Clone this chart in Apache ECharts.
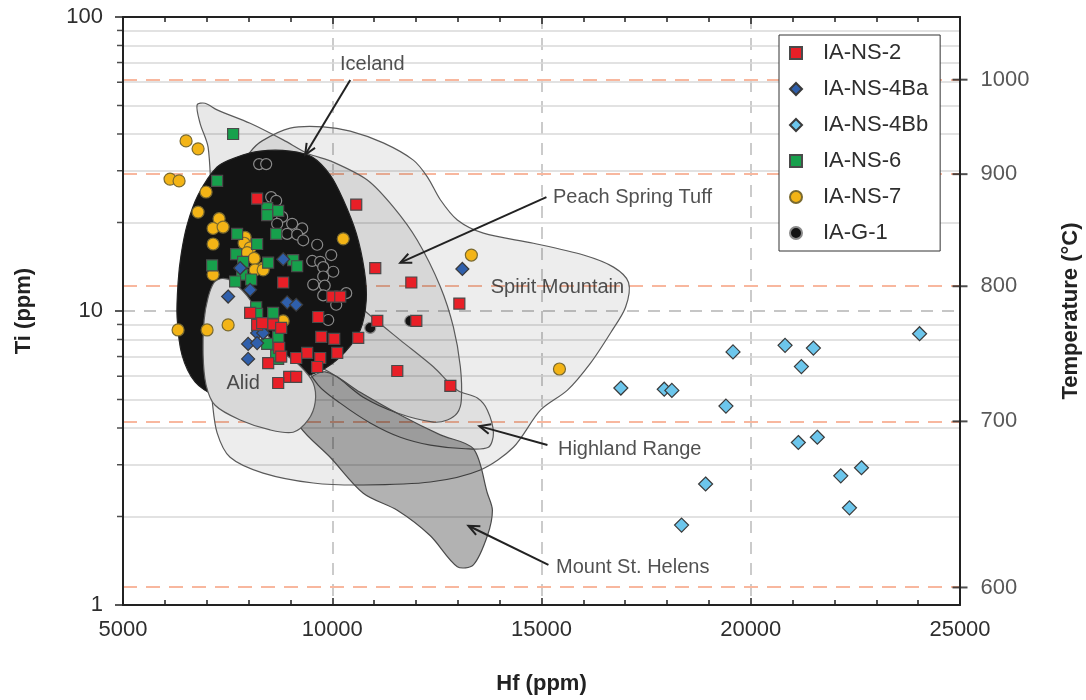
<!DOCTYPE html>
<html>
<head>
<meta charset="utf-8">
<script src="https://cdn.jsdelivr.net/npm/echarts@6/dist/echarts.min.js"></script>
<style>
  html, body { margin: 0; padding: 0; background: #fff; }
  #chart { width: 1086px; height: 700px; }
</style>
</head>
<body>
<div id="chart"></div>
<script>
// 样品数据 [Hf, Ti]
var nsTwo = [[8205,24.1],[10573,23.0],[11028,14.0],[11889,12.5],[13037,10.6],[12009,9.25],[11076,9.25],
  [9664,9.54],[10000,11.2],[10191,11.2],[9736,8.17],[10048,8.04],[10621,8.10],[9401,7.20],[9712,6.92],
  [10119,7.20],[9640,6.45],[11554,6.25],[12822,5.56],[8827,12.5],[9138,6.92],[8038,9.85],[8205,8.97],
  [8588,9.0],[8779,8.76],[8732,7.49],[8971,5.97],[9138,5.97],[8708,5.69],[8469,6.65],[8325,9.1],[8780,7.0]];
var nsFourBa = [[7512,11.2],[8038,11.8],[8923,10.7],[9138,10.5],[8205,8.42],[8349,8.42],[7990,7.73],
  [8205,7.78],[7990,6.87],[8827,15.0],[13109,13.9],[7799,14.0]];
var nsFourBb = [[24034,8.37],[20820,7.64],[21497,7.48],[21210,6.47],[19576,7.26],[16896,5.47],[17933,5.42],
  [18115,5.37],[19407,4.75],[21137,3.57],[21591,3.72],[22151,2.75],[22646,2.93],[22359,2.14],[18921,2.58],[18347,1.87]];
var nsSix = [[7631,40.0],[7249,27.7],[8445,22.4],[8708,21.9],[8445,21.2],[8660,18.3],[7727,18.3],[8205,16.9],
  [7703,15.6],[7870,14.7],[8468,14.6],[9066,14.9],[9162,14.2],[7129,14.3],[7846,13.3],[7679,12.6],[8062,12.8],
  [8182,10.3],[8205,9.77],[8588,9.85],[8708,8.17],[8445,7.73],[8708,6.87],[8660,7.05]];
var nsSeven = [[6507,37.9],[6794,35.6],[6124,28.1],[6340,27.7],[6985,25.4],[6794,21.7],[7296,20.6],[7153,19.1],
  [7392,19.3],[7153,16.9],[7918,17.8],[7894,17.0],[8038,16.4],[7966,15.8],[8134,15.1],[10262,17.6],[8349,14.0],
  [7153,13.3],[8157,13.8],[8349,13.8],[7512,8.97],[7009,8.62],[6316,8.62],[8827,9.25],[13324,15.5],[15429,6.35]];
var gOne = [[8253,31.6],[8421,31.6],[8541,24.4],[8660,23.7],[8589,21.2],[8803,20.9],[8684,19.8],[9042,19.8],
  [9282,19.1],[8923,18.3],[9162,18.2],[9306,17.4],[9640,16.8],[9976,15.5],[9521,14.8],[9712,14.7],[9784,14.1],
  [10024,13.6],[9784,13.1],[9545,12.3],[9820,12.2],[9784,11.3],[10334,11.5],[10095,10.5],[9904,9.32],
  [10908,8.76],[11865,9.25]];

// 各地区范围 [Hf, Ti]
var spiritMountain = [[8038,34.7],[8325,37.9],[8995,41.9],[9784,42.3],[10430,40.9],[11219,37.3],[11937,32.6],
  [12272,28.6],[12583,23.9],[12989,20.4],[13611,18.4],[14807,17.0],[16003,15.5],[16721,14.1],[17080,12.5],
  [17008,10.3],[16649,8.42],[16171,6.65],[15620,5.38],[14975,4.60],[14329,3.44],[13539,2.88],[12343,2.62],
  [10741,2.56],[9545,2.60],[8349,2.81],[7559,3.18],[7249,3.85],[7129,4.98],[6961,8.61],[7081,16.1],[7440,25.8]];
var peachSpring = [[6770,50.2],[6961,50.9],[7249,48.3],[8038,43.5],[8827,38.2],[9401,34.4],[10024,32.1],
  [10837,27.9],[11458,22.6],[12032,17.4],[12583,12.1],[12894,8.83],[13061,6.46],[13085,4.98],[12989,4.50],
  [12750,4.26],[12415,4.19],[11554,4.50],[10741,5.09],[10119,5.97],[9473,6.81],[8038,10.9],[7201,20.4],
  [7033,36.1],[6842,43.5]];
var highland = [[9951,12.7],[10837,9.84],[11626,7.96],[12415,6.46],[12989,5.38],[13468,5.06],[13707,4.60],
  [13851,3.85],[13731,3.44],[13181,3.40],[12344,3.50],[11626,3.72],[10908,4.16],[10191,4.86],[9664,5.60],
  [9353,6.81],[9473,9.31]];
var stHelens = [[9234,5.60],[9832,6.21],[10669,5.29],[11626,4.43],[12583,3.79],[13372,3.40],[13707,2.40],
  [13827,2.10],[13707,1.72],[13372,1.37],[12989,1.35],[12344,1.72],[11554,2.10],[10741,2.40],[9951,3.18],
  [9234,4.03],[8995,4.98]];
var iceland = [[7249,30.9],[7727,33.4],[8277,35.0],[8995,35.0],[9521,33.4],[9951,29.0],[10262,23.9],
  [10573,18.4],[10765,13.8],[10813,10.9],[10669,8.61],[10310,7.26],[9832,6.39],[9234,5.91],[8516,5.60],
  [7799,5.29],[7201,5.18],[6722,5.74],[6411,7.08],[6292,9.55],[6316,12.5],[6387,15.5],[6531,19.6],[6794,24.8]];
var alid = [[7368,12.9],[7608,12.6],[8038,10.9],[8325,8.83],[8755,7.36],[9234,6.50],[9545,5.69],[9593,4.90],
  [9425,4.26],[9066,3.87],[8516,3.94],[7799,4.26],[7201,4.78],[6985,5.60],[6914,7.08],[6938,9.31],
  [7033,11.1],[7177,12.5]];

// 注记与箭头
var annoText = ['Iceland', 'Peach Spring Tuff', 'Spirit Mountain', 'Highland Range', 'Mount St. Helens', 'Alid'];
var annoHf = [10956, 15262, 15381, 15381, 15334, 7870];
var annoTi = [68.7, 24.4, 12.0, 3.37, 1.34, 5.69];
var annoAlign = ['center', 'left', 'center', 'left', 'left', 'center'];
var arrowLines = [[10430,61.1,9353,34.0],[15118,24.4,11626,14.6],[15142,3.50,13516,4.06],[15166,1.37,13253,1.86]];

// 坐标轴刻度
var minorTi = [2,3,4,5,6,7,8,9,20,30,40,50,60,70,80,90];
var tempTicks = [600, 700, 800, 900, 1000];

// Ti-in-zircon 温度换算
function tiForTemp(t) {
  return Math.pow(10, 5.557 - 4800 / (t + 273.15));
}

var FONT = 'Liberation Sans, Arial, sans-serif';

function shapeSeries(name, pts, fill, stroke) {
  return {
    type: 'custom', name: name, z: 1, silent: true, clip: true,
    data: pts,
    encode: { x: 0, y: 1 },
    renderItem: function (params, api) {
      if (params.dataIndex !== 0) return null;
      var points = pts.map(function (p) { return api.coord(p); });
      return {
        type: 'polygon',
        shape: { points: points, smooth: 0.3 },
        style: { fill: fill, stroke: stroke, lineWidth: 1.2 }
      };
    }
  };
}

function pointSeries(name, data, symbol, size, color, border) {
  return {
    type: 'scatter', name: name, z: 4,
    data: data, symbol: symbol, symbolSize: size,
    itemStyle: { color: color, borderColor: border, borderWidth: 1.2, opacity: 1 }
  };
}

var myChart = echarts.init(document.getElementById('chart'));

myChart.setOption({
  animation: false,
  backgroundColor: '#fff',
  textStyle: { fontFamily: FONT },
  grid: { left: 123, right: 126, top: 17, bottom: 95, containLabel: false, outerBoundsMode: 'none' },
  legend: {
    data: ['IA-NS-2', 'IA-NS-4Ba', 'IA-NS-4Bb', 'IA-NS-6', 'IA-NS-7', 'IA-G-1'],
    orient: 'vertical',
    left: 779, top: 35, z: 20,
    padding: [6, 12, 6, 10],
    itemWidth: 12, itemHeight: 12, itemGap: 12,
    backgroundColor: '#fff',
    borderColor: '#333', borderWidth: 1, borderRadius: 0,
    textStyle: { fontSize: 22, color: '#2e2e2e', fontFamily: FONT, lineHeight: 24, padding: [0, 0, 0, 16] }
  },
  xAxis: [{
    type: 'value', position: 'bottom', min: 5000, max: 25000, interval: 5000,
    name: 'Hf (ppm)', nameLocation: 'middle', nameGap: 68,
    nameTextStyle: { fontSize: 22, fontWeight: 'bold', color: '#222', fontFamily: FONT },
    axisLine: { lineStyle: { color: '#222', width: 2 } },
    axisTick: { inside: true, length: 7, lineStyle: { color: '#222', width: 1.5 } },
    minorTick: { show: true, splitNumber: 5, length: 5, lineStyle: { color: '#222', width: 1.5 } },
    axisLabel: { fontSize: 22, color: '#2e2e2e', margin: 14, fontFamily: FONT, formatter: function (v) { return String(v); } },
    splitLine: { show: true, lineStyle: { color: '#c6c6c6', type: [12, 9], width: 1.8 } }
  }, {
    type: 'value', position: 'top', min: 5000, max: 25000, interval: 5000,
    axisLine: { lineStyle: { color: '#222', width: 2 } },
    axisTick: { inside: true, length: 7, lineStyle: { color: '#222', width: 1.5 } },
    minorTick: { show: true, splitNumber: 5, length: 5, lineStyle: { color: '#222', width: 1.5 } },
    axisLabel: { show: false },
    splitLine: { show: false }
  }],
  yAxis: [{
    type: 'log', logBase: 10, min: 1, max: 100, position: 'left',
    name: 'Ti (ppm)', nameLocation: 'middle', nameGap: 88, nameRotate: 90,
    nameTextStyle: { fontSize: 22, fontWeight: 'bold', color: '#222', fontFamily: FONT },
    axisLine: { show: true, lineStyle: { color: '#222', width: 2 } },
    axisTick: { show: true, inside: false, length: 8, lineStyle: { color: '#222', width: 1.5 } },
    axisLabel: { fontSize: 22, color: '#2e2e2e', margin: 20, fontFamily: FONT },
    splitLine: { show: true, lineStyle: { color: '#c6c6c6', type: [12, 9], width: 1.8 } }
  }, {
    type: 'log', logBase: 10, min: 1, max: 100, position: 'right',
    name: 'Temperature (°C)', nameLocation: 'middle', nameGap: 100, nameRotate: 90,
    nameTextStyle: { fontSize: 22, fontWeight: 'bold', color: '#222', fontFamily: FONT },
    axisLine: { show: true, lineStyle: { color: '#222', width: 2 } },
    axisTick: { show: false },
    axisLabel: { show: false },
    splitLine: { show: false }
  }],
  series: [
    // 次网格线
    {
      type: 'scatter', name: 'minorGrid', data: [], z: 0, silent: true,
      markLine: {
        silent: true, z: 0, symbol: ['none', 'none'], label: { show: false },
        lineStyle: { color: '#d9d9d9', type: 'solid', width: 1.5 },
        data: minorTi.map(function (v) { return { yAxis: v }; })
      }
    },
    // 温度线
    {
      type: 'scatter', name: 'tempLines', data: [], z: 0, silent: true,
      markLine: {
        silent: true, z: 0, symbol: ['none', 'none'], label: { show: false },
        lineStyle: { color: '#f8b79e', type: [14, 9], width: 2 },
        data: tempTicks.map(function (t) { return { yAxis: tiForTemp(t) }; })
      }
    },
    // 左轴次刻度
    {
      type: 'scatter', name: 'minorTicks', z: 6, silent: true, clip: false,
      data: minorTi.map(function (v) { return [5000, v]; }),
      symbol: 'rect', symbolSize: [6, 1.5], symbolOffset: [-3, 0],
      itemStyle: { color: '#222' }
    },
    // 右轴温度刻度
    {
      type: 'scatter', name: 'tempTicks', z: 6, silent: true, clip: false,
      data: tempTicks.map(function (t) { return { value: [25000, tiForTemp(t)], name: String(t) }; }),
      symbol: 'rect', symbolSize: [15, 2], symbolOffset: [0, 0],
      itemStyle: { color: '#222' },
      label: {
        show: true, position: 'right', distance: 13, formatter: '{b}',
        fontSize: 22, color: '#2e2e2e', fontFamily: FONT
      }
    },
    shapeSeries('Spirit Mountain', spiritMountain, 'rgba(0,0,0,0.07)', '#5a5a5a'),
    shapeSeries('Peach Spring Tuff', peachSpring, 'rgba(0,0,0,0.09)', '#5a5a5a'),
    shapeSeries('Highland Range', highland, 'rgba(0,0,0,0.05)', '#5a5a5a'),
    shapeSeries('Mount St. Helens', stHelens, 'rgba(0,0,0,0.30)', '#4a4a4a'),
    shapeSeries('Iceland', iceland, '#141414', '#222'),
    shapeSeries('Alid', alid, '#d8d8d8', '#5a5a5a'),
    // 箭头
    {
      type: 'custom', name: 'arrows', z: 5, silent: true, clip: false,
      data: arrowLines,
      encode: { x: [0, 2], y: [1, 3] },
      renderItem: function (params, api) {
        var a = api.coord([api.value(0), api.value(1)]);
        var b = api.coord([api.value(2), api.value(3)]);
        var ang = Math.atan2(b[1] - a[1], b[0] - a[0]);
        var len = 12, spread = 0.42;
        var h1 = [b[0] - len * Math.cos(ang - spread), b[1] - len * Math.sin(ang - spread)];
        var h2 = [b[0] - len * Math.cos(ang + spread), b[1] - len * Math.sin(ang + spread)];
        return {
          type: 'group',
          children: [
            { type: 'line', shape: { x1: a[0], y1: a[1], x2: b[0], y2: b[1] }, style: { stroke: '#222', lineWidth: 2 } },
            { type: 'polyline', shape: { points: [h1, b, h2] }, style: { stroke: '#222', lineWidth: 2, fill: null } }
          ]
        };
      }
    },
    // 注记文字
    {
      type: 'scatter', name: 'labels', z: 5, silent: true, clip: false,
      symbolSize: 1, itemStyle: { color: 'rgba(0,0,0,0)' },
      data: annoText.map(function (t, i) {
        return {
          name: t, value: [annoHf[i], annoTi[i]],
          label: {
            show: true, formatter: '{b}',
            position: annoAlign[i] === 'left' ? 'right' : 'inside',
            distance: 0, fontSize: 20, color: '#262626', fontFamily: FONT
          }
        };
      })
    },
    pointSeries('IA-G-1', gOne, 'circle', 11, '#141414', '#8a8a8a'),
    pointSeries('IA-NS-7', nsSeven, 'circle', 12, '#f3b416', '#7a6a30'),
    pointSeries('IA-NS-6', nsSix, 'rect', 11, '#17a04c', '#4a4a4a'),
    pointSeries('IA-NS-4Ba', nsFourBa, 'diamond', 13, '#2f5fab', '#3a3a3a'),
    pointSeries('IA-NS-4Bb', nsFourBb, 'diamond', 14, '#6cc6ec', '#3a3a3a'),
    pointSeries('IA-NS-2', nsTwo, 'rect', 11, '#e81f27', '#4a4a4a')
  ]
});
</script>
</body>
</html>
